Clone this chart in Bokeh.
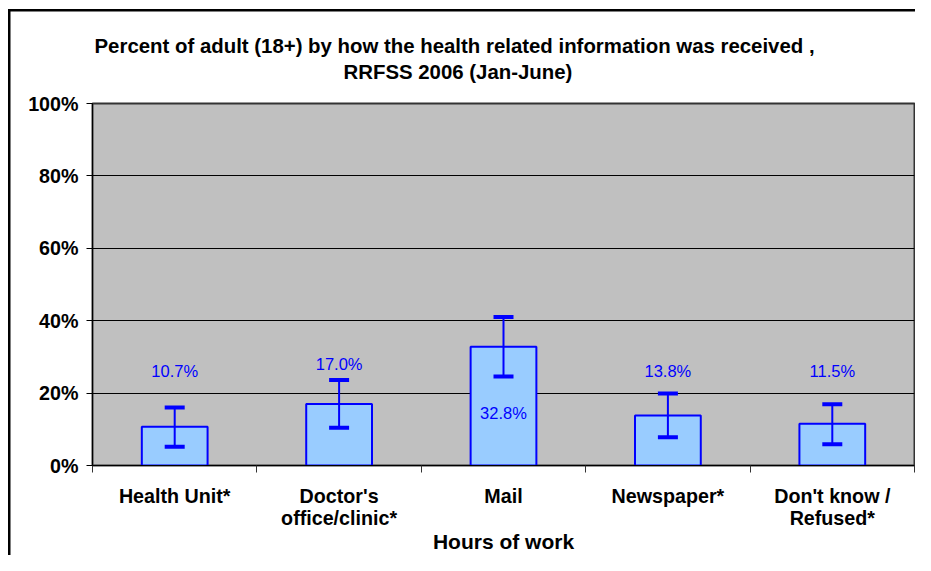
from bokeh.plotting import figure
from bokeh.models import (Range1d, FixedTicker, PrintfTickFormatter, Whisker, TeeHead,
                          ColumnDataSource, Title)
from bokeh.embed import file_html
from bokeh.resources import INLINE
from bokeh.core.properties import value

# ---------------- data ----------------
categories = ["Health Unit*", "Doctor's\noffice/clinic*", "Mail", "Newspaper*", "Don't know /\nRefused*"]
percent = [10.7, 17.0, 32.8, 13.8, 11.5]
ci_lower = [5.2, 10.4, 24.6, 7.8, 5.9]
ci_upper = [16.0, 23.6, 41.0, 19.9, 16.9]
label_place = ["above", "above", "inside", "above", "above"]
y_ticks = [0, 20, 40, 60, 80, 100]
title_lines = ["Percent of adult (18+)  by how the health related information was received ,",
               "RRFSS 2006 (Jan-June)"]
x_title = "Hours of work"

FONT = "Liberation Sans"
BLUE = "#0000FF"
LABEL_ROW = 26.0      # value labels above the bars sit on one row ...
CAP_CLEAR = 4.5       # ... but always clear of the upper error-bar cap
INSIDE_DROP = 18.2    # labels placed inside a bar sit this far below its top

xs = [i + 0.5 for i in range(len(categories))]
label_text = ["%.1f%%" % v for v in percent]
label_y = [max(LABEL_ROW, u + CAP_CLEAR) if pl == "above" else v - INSIDE_DROP
           for v, u, pl in zip(percent, ci_upper, label_place)]

src = ColumnDataSource(dict(x=xs, top=percent, lower=ci_lower, upper=ci_upper,
                            ly=label_y, lt=label_text))

p = figure(width=915, height=555, output_backend="svg", toolbar_location=None,
           x_range=Range1d(0, len(categories)), y_range=Range1d(0, 100),
           min_border_left=92, min_border_right=1, min_border_top=103, min_border_bottom=86)

p.background_fill_color = "#C0C0C0"
p.border_fill_color = None
p.outline_line_color = "#333333"
p.outline_line_width = 2
# outer chart frame (left and top edges visible in the window)
p.styles = {"box-shadow": "inset 8px 9px 0 0 white, inset 10.5px 11.5px 0 0 black",
            "background-color": "white"}

# bars
p.vbar(x="x", top="top", width=0.4, bottom=0, source=src,
       fill_color="#99CCFF", line_color=BLUE, line_width=2)

# error bars
wh = Whisker(source=src, base="x", upper="upper", lower="lower", level="annotation",
             line_color=BLUE, line_width=2,
             upper_head=TeeHead(size=20, line_color=BLUE, line_width=4),
             lower_head=TeeHead(size=20, line_color=BLUE, line_width=4))
p.add_layout(wh)

# value labels
p.text(x="x", y="ly", text="lt", source=src, text_color=BLUE,
       text_font=value(FONT), text_font_size="16.5px",
       text_align="center", text_baseline="middle", level="annotation")

# y axis
p.yaxis.ticker = FixedTicker(ticks=y_ticks, minor_ticks=[])
p.yaxis.formatter = PrintfTickFormatter(format="%d%%")
p.yaxis.major_label_text_font = FONT
p.yaxis.major_label_text_font_style = "bold"
p.yaxis.major_label_text_font_size = "19.7px"
p.yaxis.major_label_text_color = "black"
p.yaxis.major_tick_out = 6
p.yaxis.major_tick_in = 0
p.yaxis.major_tick_line_color = "black"
p.yaxis.axis_line_color = "black"
p.yaxis.major_label_standoff = 8

# x axis
p.xaxis.ticker = FixedTicker(ticks=xs, minor_ticks=list(range(len(categories) + 1)))
p.xaxis.major_label_overrides = {x: c for x, c in zip(xs, categories)}
p.xaxis.major_tick_line_color = None
p.xaxis.major_tick_out = 0
p.xaxis.major_tick_in = 0
p.xaxis.minor_tick_out = 7
p.xaxis.minor_tick_in = 0
p.xaxis.minor_tick_line_color = "#333333"
p.xaxis.axis_line_color = "black"
p.xaxis.major_label_text_font = FONT
p.xaxis.major_label_text_font_style = "bold"
p.xaxis.major_label_text_font_size = "19.7px"
p.xaxis.major_label_text_line_height = 1.0
p.xaxis.major_label_text_color = "black"
p.xaxis.major_label_standoff = 12
p.xaxis.axis_label = x_title
p.xaxis.axis_label_text_font = FONT
p.xaxis.axis_label_text_font_style = "bold"
p.xaxis.axis_label_text_font_size = "21px"
p.xaxis.axis_label_text_color = "black"
p.xaxis.axis_label_standoff = -2

# grid
p.xgrid.grid_line_color = None
p.ygrid.ticker = FixedTicker(ticks=y_ticks)
p.ygrid.grid_line_color = "black"
p.ygrid.grid_line_width = 1

# titles (two lines); a thin spacer sits next to the plot frame
spacer = Title(text=" ", text_font_size="1px", standoff=17)
p.add_layout(spacer, "above")
t2 = Title(text=title_lines[1], align="left", offset=251, standoff=2, text_font=FONT,
           text_font_style="bold", text_font_size="20.4px", text_color="black")
p.add_layout(t2, "above")
p.title.text = title_lines[0]
p.title.align = "left"
p.title.offset = 2
p.title.standoff = 2
p.title.text_font = FONT
p.title.text_font_style = "bold"
p.title.text_font_size = "20.4px"
p.title.text_color = "black"

open("out.html", "w").write(file_html(p, INLINE))
